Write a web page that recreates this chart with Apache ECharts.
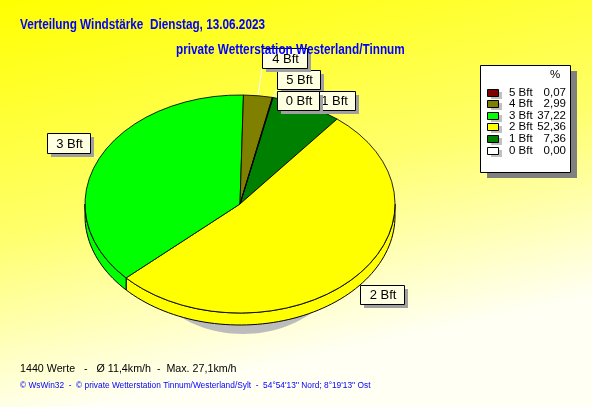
<!DOCTYPE html>
<html><head><meta charset="utf-8">
<script src="https://cdn.jsdelivr.net/npm/echarts@6/dist/echarts.min.js"></script>
<style>html,body{margin:0;padding:0;background:#fff}#c{width:592px;height:407px;}</style>
</head><body><div id="c"></div>
<script>
// ---- data ----
const categories = ['0 Bft', '1 Bft', '2 Bft', '3 Bft', '4 Bft', '5 Bft'];
const percents = [0.00, 7.36, 52.36, 37.22, 2.99, 0.07];
const sliceColors = ['#ffffff', '#008000', '#ffff00', '#00ff00', '#808000', '#800000'];
const legendHeader = '%';
const titleText = 'Verteilung Windstärke  Dienstag, 13.06.2023';
const subtitleText = 'private Wetterstation Westerland/Tinnum';
const statsText = '1440 Werte   -   Ø 11,4km/h  -  Max. 27,1km/h';
const creditText = "© WsWin32  -  © private Wetterstation Tinnum/Westerland/Sylt  -  54°54'13'' Nord; 8°19'13'' Ost";

// ---- layout ----
const PIE = { cx: 240, cy: 204, rx: 155, ry: 109, depth: 12, startDeg: 12.3 };
const labelBoxes = [[277, 91, 42, 19], [312, 91, 43, 19], [360, 285, 44, 19], [47, 133, 43, 20], [262, 48, 45, 20], [277, 70, 43, 19]];
const labelLayer = [30, 29, 24, 24, 26, 25];
const FONT = "'Liberation Sans', Arial, sans-serif";

const total = percents.reduce((a, b) => a + b, 0);

function ellPt(aRad, dy) {
  return [PIE.cx + PIE.rx * Math.cos(aRad), PIE.cy + PIE.ry * Math.sin(aRad) + (dy || 0)];
}

function renderItem(params, api) {
  const i = params.dataIndex;
  const v = api.value(0);
  let before = 0;
  for (let k = 0; k < i; k++) before += percents[k];
  const t0 = PIE.startDeg + before / total * 360;
  const t1 = t0 + v / total * 360;
  const d0 = t0 - 90, d1 = t1 - 90; // screen degrees, clockwise from +x
  const a0 = d0 * Math.PI / 180, a1 = d1 * Math.PI / 180;
  const children = [];
  const color = api.visual('color');

  if (v > 0) {
    const s0 = Math.max(d0, 0), s1 = Math.min(d1, 180);
    if (s1 > s0) {
      const n = Math.max(2, Math.ceil((s1 - s0) / 2));
      const top = [], bot = [];
      for (let k = 0; k <= n; k++) {
        const a = (s0 + (s1 - s0) * k / n) * Math.PI / 180;
        top.push(ellPt(a, 0));
        bot.push(ellPt(a, PIE.depth));
      }
      children.push({
        type: 'polygon', z2: 5,
        shape: { points: top.concat(bot.reverse()) },
        style: { fill: color, stroke: '#000', lineWidth: 1 }
      });
    }
    children.push({
      type: 'sector', z2: 10,
      shape: { cx: PIE.cx, cy: PIE.cy, r: PIE.rx, r0: 0, startAngle: a0, endAngle: a1, clockwise: true },
      scaleY: PIE.ry / PIE.rx, originX: PIE.cx, originY: PIE.cy,
      style: { fill: color, stroke: '#000', lineWidth: 1, strokeNoScale: true }
    });
  }

  const b = labelBoxes[i];
  const am = ((d0 + d1) / 2) * Math.PI / 180;
  const anchor = ellPt(am, 0);
  const lx = Math.min(Math.max(anchor[0], b[0]), b[0] + b[2]);
  const ly = Math.min(Math.max(anchor[1], b[1]), b[1] + b[3]);
  children.push({
    type: 'line', z2: 1,
    shape: { x1: lx, y1: ly, x2: anchor[0], y2: anchor[1] },
    style: { stroke: '#ffffff', lineWidth: 1 }
  });
  const z = labelLayer[i] * 3;
  children.push({
    type: 'rect', z2: z,
    shape: { x: b[0] + 4, y: b[1] + 4, width: b[2], height: b[3] },
    style: { fill: '#a0a0a0' }
  });
  children.push({
    type: 'rect', z2: z + 1,
    shape: { x: b[0] + 0.5, y: b[1] + 0.5, width: b[2], height: b[3] },
    style: { fill: '#ffffe1', stroke: '#000', lineWidth: 1 }
  });
  children.push({
    type: 'text', z2: z + 2,
    style: {
      text: categories[i], x: b[0] + b[2] / 2 + 1, y: b[1] + b[3] / 2 + 1,
      align: 'center', verticalAlign: 'middle', fill: '#000', font: '13px ' + FONT
    }
  });
  return { type: 'group', children: children };
}

const legendEls = [];
const LG = { x: 480, y: 65, w: 90, h: 107 };
legendEls.push({ type: 'rect', z: 20, shape: { x: LG.x + 7, y: LG.y + 6, width: LG.w, height: LG.h }, style: { fill: '#808080' } });
legendEls.push({ type: 'rect', z: 21, shape: { x: LG.x + 0.5, y: LG.y + 0.5, width: LG.w, height: LG.h }, style: { fill: '#ffffff', stroke: '#000', lineWidth: 1 } });
legendEls.push({ type: 'text', z: 22, x: 550, y: 75, style: { text: legendHeader, font: '11.5px ' + FONT, fill: '#000', align: 'left', verticalAlign: 'middle' } });
for (let r = 0; r < categories.length; r++) {
  const i = categories.length - 1 - r;
  const yc = 92 + r * 11.6;
  legendEls.push({ type: 'rect', z: 22, shape: { x: 491, y: Math.round(yc - 3.5) + 3, width: 11, height: 7 }, style: { fill: '#c0c0c0' } });
  legendEls.push({ type: 'rect', z: 23, shape: { x: 487.5, y: Math.round(yc - 3.5) + 0.5, width: 11, height: 7 }, style: { fill: sliceColors[i], stroke: '#000', lineWidth: 1 } });
  legendEls.push({ type: 'text', z: 23, x: 509, y: yc + 0.5, style: { text: categories[i], font: '11.5px ' + FONT, fill: '#000', align: 'left', verticalAlign: 'middle' } });
  legendEls.push({ type: 'text', z: 23, x: 566, y: yc + 0.5, style: { text: percents[i].toFixed(2).replace('.', ','), font: '11.5px ' + FONT, fill: '#000', align: 'right', verticalAlign: 'middle' } });
}

const chart = echarts.init(document.getElementById('c'), null, { renderer: 'canvas' });
chart.setOption({
  animation: false,
  backgroundColor: {
    type: 'linear', x: 0, y: 0, x2: 0.15, y2: 1,
    colorStops: [{ offset: 0, color: '#ffff00' }, { offset: 0.55, color: '#ffff6a' }, { offset: 1, color: '#fffff4' }]
  },
  graphic: [
    { type: 'ellipse', z: 0, shape: { cx: 243, cy: 238, rx: 110, ry: 96 }, style: { fill: '#bcbcbc' } },
    { type: 'text', z: 5, x: 20, y: 25, scaleX: 0.84, style: { text: titleText, font: 'bold 14px ' + FONT, fill: '#0000ff', verticalAlign: 'middle' } },
    { type: 'text', z: 5, x: 176, y: 50, scaleX: 0.84, style: { text: subtitleText, font: 'bold 14px ' + FONT, fill: '#0000ff', verticalAlign: 'middle' } },
    { type: 'text', z: 5, x: 20, y: 369, scaleX: 0.93, style: { text: statsText, font: '11.5px ' + FONT, fill: '#000', verticalAlign: 'middle' } },
    { type: 'text', z: 5, x: 20, y: 386, scaleX: 0.98, style: { text: creditText, font: '8.5px ' + FONT, fill: '#0000ff', verticalAlign: 'middle' } }
  ].concat(legendEls),
  series: [{
    type: 'custom',
    coordinateSystem: 'none',
    z: 2,
    renderItem: renderItem,
    data: percents.map((v, i) => ({ name: categories[i], value: [v], itemStyle: { color: sliceColors[i] } }))
  }]
});
</script></body></html>
